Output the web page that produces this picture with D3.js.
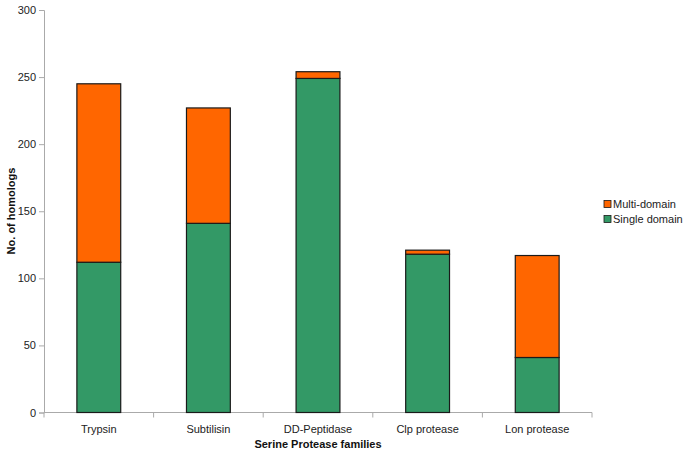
<!DOCTYPE html>
<html><head><meta charset="utf-8">
<script src="https://cdn.jsdelivr.net/npm/d3@7"></script>
<style>body{margin:0;background:#fff}svg{display:block;font-family:"Liberation Sans",Arial,sans-serif}</style>
</head><body>
<script>
const categories = ["Trypsin","Subtilisin","DD-Peptidase","Clp protease","Lon protease"];
const singleDomain = [112,141,249,118,41];
const multiDomain = [133,86,5,3,76];
const seriesNames = ["Multi-domain","Single domain"];
const yTicks = [0,50,100,150,200,250,300];
const colors = {"Single domain":"#339966","Multi-domain":"#FF6600"};

const W=685,H=454;
const svg=d3.select("body").append("svg").attr("width",W).attr("height",H);
const x=d3.scaleBand().domain(categories).range([44,592]).paddingInner(0.6).paddingOuter(0.3);
const y=d3.scaleLinear().domain([0,300]).range([412.5,10]);

const rows=categories.map((c,i)=>({cat:c,"Single domain":singleDomain[i],"Multi-domain":multiDomain[i]}));
const stack=d3.stack().keys(["Single domain","Multi-domain"])(rows);

// axes
const yAxis=svg.append("g").attr("transform","translate(44,0)")
  .call(d3.axisLeft(y).tickValues(yTicks).tickSize(5).tickPadding(3));
yAxis.select(".domain").attr("stroke","#aaa");
yAxis.selectAll(".tick line").attr("stroke","#aaa");
yAxis.selectAll("text").attr("font-size",11).attr("fill","#222").attr("font-family","Liberation Sans, Arial, sans-serif");

// x axis line and boundary ticks
const band=(592-44)/categories.length;
const xg=svg.append("g");
xg.append("line").attr("x1",44).attr("x2",592).attr("y1",y(0)).attr("y2",y(0)).attr("stroke","#aaa");
d3.range(categories.length+1).forEach(i=>{
  const xx=44+i*band;
  xg.append("line").attr("x1",xx).attr("x2",xx).attr("y1",y(0)).attr("y2",y(0)+5).attr("stroke","#aaa");
});
xg.selectAll("text.cat").data(categories).join("text").attr("class","cat")
  .attr("x",d=>x(d)+x.bandwidth()/2).attr("y",433).attr("text-anchor","middle")
  .attr("font-size",11).attr("fill","#222").text(d=>d);

// bars
svg.append("g").selectAll("g").data(stack).join("g")
  .attr("fill",d=>colors[d.key])
  .selectAll("rect").data(d=>d).join("rect")
  .attr("x",d=>x(d.data.cat)).attr("width",x.bandwidth())
  .attr("y",d=>y(d[1])).attr("height",d=>y(d[0])-y(d[1]))
  .attr("stroke","#1a1a1a").attr("stroke-width",1.2);

// titles
svg.append("text").attr("x",318).attr("y",448).attr("text-anchor","middle")
  .attr("font-size",11).attr("font-weight","bold").attr("fill","#111").text("Serine Protease families");
svg.append("text").attr("transform","translate(15,211) rotate(-90)").attr("text-anchor","middle")
  .attr("font-size",11).attr("font-weight","bold").attr("fill","#111").text("No. of homologs");

// legend
const lg=svg.append("g");
seriesNames.forEach((s,i)=>{
  const yy=204+i*15;
  lg.append("rect").attr("x",604).attr("y",yy-3.5).attr("width",7).attr("height",7)
    .attr("fill",colors[s]).attr("stroke","#1a1a1a").attr("stroke-width",0.8);
  lg.append("text").attr("x",613).attr("y",yy+4).attr("font-size",11).attr("fill","#222").text(s);
});
</script>
</body></html>
